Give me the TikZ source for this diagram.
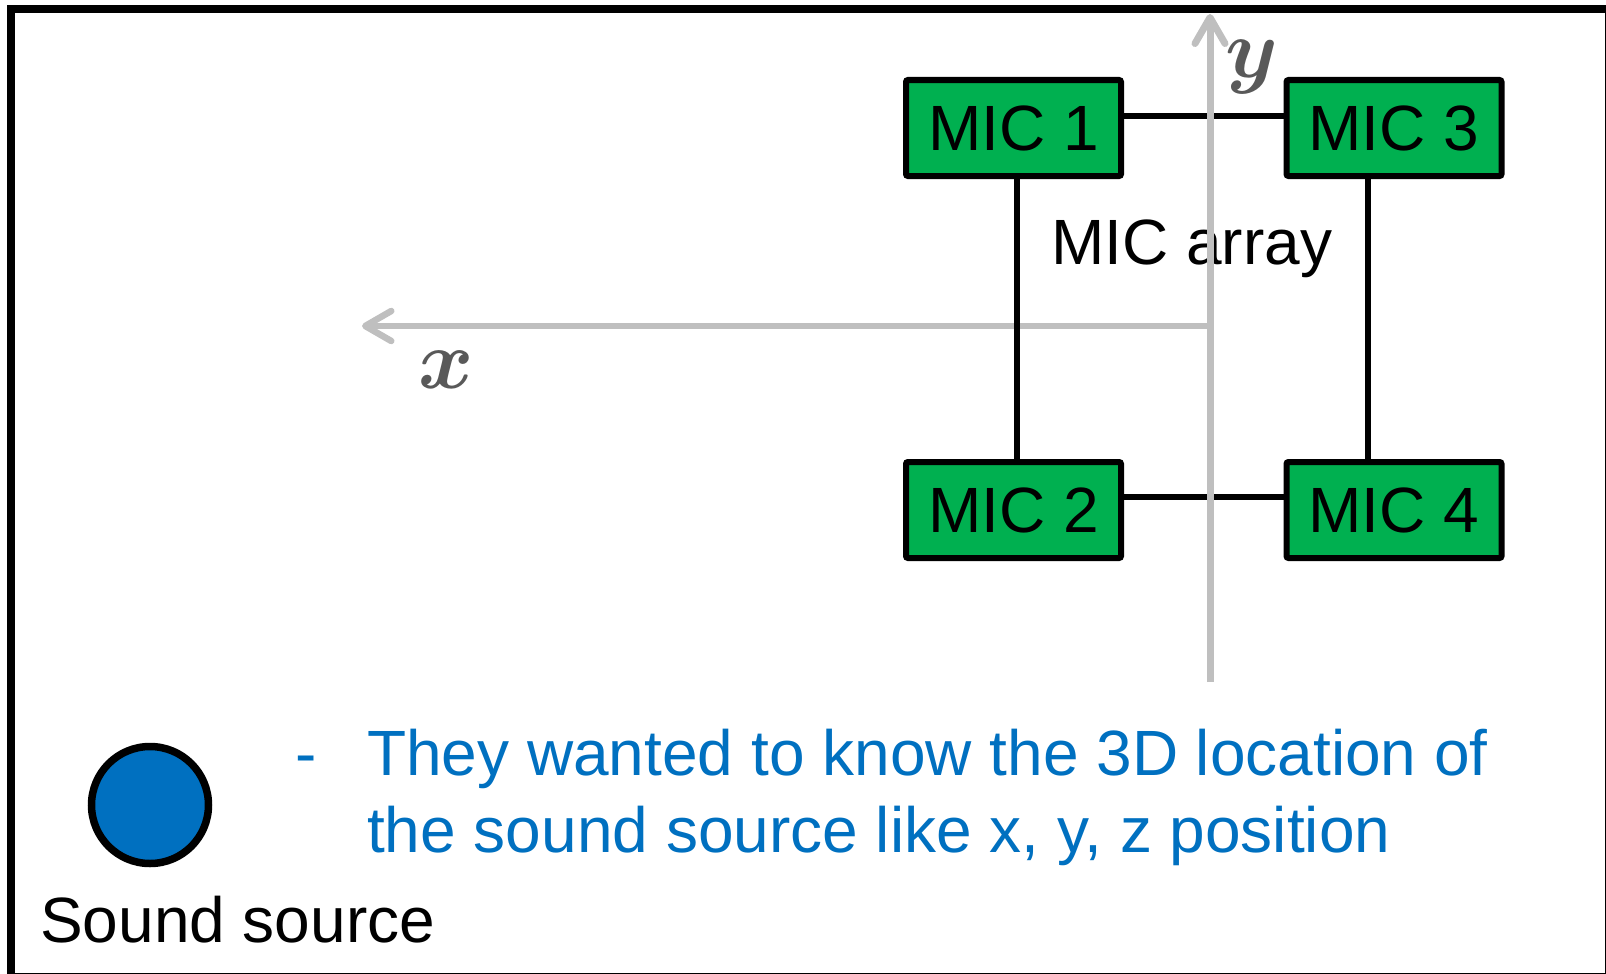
\RequirePackage{fix-cm}
\documentclass[tikz,border=0pt]{standalone}
\usepackage{fontspec}
\setmainfont{Liberation Sans}
\usepackage{bm}
\usetikzlibrary{arrows.meta}
\definecolor{micgreen}{HTML}{00B050}
\definecolor{txtblue}{HTML}{0070C0}
\definecolor{axisgray}{HTML}{BFBFBF}
\definecolor{labgray}{HTML}{595959}
\begin{document}
\begin{tikzpicture}[x=1pt,y=-1pt,
  micbox/.style={draw=black,fill=micgreen,line width=6pt,rounded corners=2pt,
    minimum width=215pt,minimum height=96pt,inner sep=0pt,
    font=\fontsize{64}{77}\selectfont},
  wire/.style={draw=black,line width=5.5pt},
  axis/.style={draw=axisgray,line width=7pt,
    -{Straight Barb[length=26pt,width=30pt,round]}},
  big/.style={font=\fontsize{64}{77}\selectfont,inner sep=0pt},
  axlab/.style={text=labgray,inner sep=0pt,font=\fontsize{84}{90}\selectfont}]
\useasboundingbox (0,0) rectangle (1606,974);
\clip (0,0) rectangle (1606,974);
\draw[line width=8pt] (11,8.6) rectangle (1609,977);
% boxes
\node[micbox] (mic1) at (1013.5,128) {MIC 1};
\node[micbox] (mic3) at (1394,128) {MIC 3};
\node[micbox] (mic2) at (1013.5,510) {MIC 2};
\node[micbox] (mic4) at (1394,510) {MIC 4};
% x axis
\coordinate (o) at (1210,326);
\coordinate (xtip) at (362,326);
\draw[axis,line width=6.5pt] (o) -- (xtip);
% connectors
\draw[wire] ([yshift=12pt]mic1.east) -- ([yshift=12pt]mic3.west);
\draw[wire] ([yshift=13pt]mic2.east) -- ([yshift=13pt]mic4.west);
\draw[wire] ([xshift=3.5pt]mic1.south) -- ([xshift=3.5pt]mic2.north);
\draw[wire] ([xshift=-26pt]mic3.south) -- ([xshift=-26pt]mic4.north);
% label
\node[big,anchor=base west] (arr) at (1051,264) {MIC array};
% y axis
\coordinate (ybot) at (1210,682);
\coordinate (ytip) at (1210,14);
\draw[axis] (ybot) -- (ytip);
\node[axlab] (xl) at (446,370) {$\bm{x}$};
\node[axlab] (yl) at (1252,67) {$\bm{y}$};
% sound source
\node[circle,draw=black,fill=txtblue,line width=7.5pt,minimum size=117pt,inner sep=0pt] (src) at (150,805) {};
\node[big,anchor=base west] (srclab) at (40,942) {Sound source};
% bullet text
\node[big,anchor=base west,text=txtblue] (dash) at (295,775) {-};
\node[big,anchor=base west,text=txtblue] (l1) at (367,775) {They wanted to know the 3D location of};
\node[big,anchor=base west,text=txtblue] (l2) at (367,852) {the sound source like x, y, z position};
\end{tikzpicture}
\end{document}
